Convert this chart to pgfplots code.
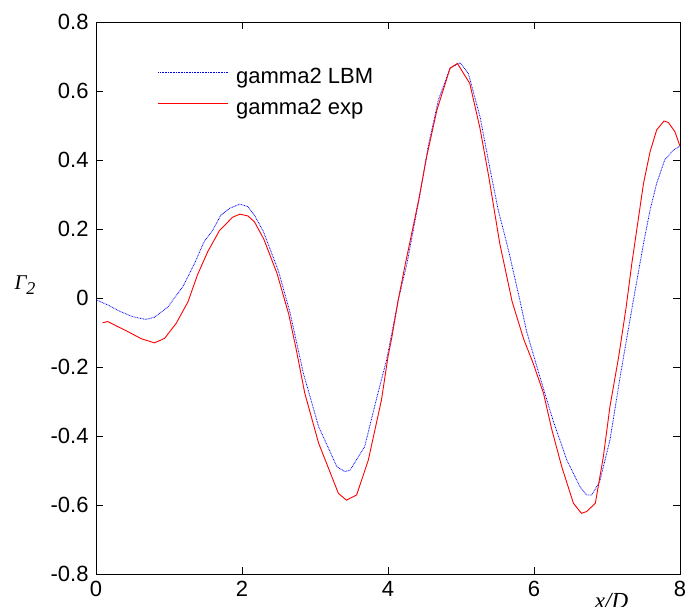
\documentclass[border=0pt]{standalone}
\usepackage{fontspec}
\setmainfont{Liberation Sans}
\newfontfamily\timesfont{Liberation Serif}
\usepackage{pgfplots}
\usepackage{pgfplotstable}
\pgfplotsset{compat=1.18}

\pgfplotstableread{
x y
0.00 -0.005
0.18 -0.022
0.32 -0.038
0.50 -0.054
0.68 -0.062
0.80 -0.056
0.98 -0.027
1.19 0.033
1.35 0.100
1.48 0.163
1.60 0.197
1.71 0.240
1.83 0.260
1.97 0.272
2.08 0.265
2.17 0.240
2.29 0.194
2.50 0.078
2.66 -0.044
2.84 -0.218
3.05 -0.373
3.30 -0.489
3.41 -0.503
3.48 -0.499
3.68 -0.431
3.85 -0.286
3.98 -0.180
4.07 -0.083
4.14 -0.006
4.26 0.100
4.44 0.303
4.55 0.439
4.69 0.574
4.85 0.666
4.99 0.682
5.10 0.651
5.26 0.526
5.40 0.371
5.51 0.255
5.65 0.139
5.81 -0.010
5.90 -0.098
6.08 -0.228
6.26 -0.354
6.45 -0.470
6.63 -0.547
6.72 -0.571
6.79 -0.571
6.90 -0.532
7.04 -0.412
7.18 -0.228
7.29 -0.093
7.35 -0.020
7.50 0.158
7.59 0.255
7.68 0.332
7.79 0.400
7.91 0.429
8.00 0.440
}\lbm

\pgfplotstableread{
x y
0.09 -0.072
0.16 -0.068
0.27 -0.080
0.46 -0.100
0.62 -0.118
0.80 -0.130
0.94 -0.117
1.10 -0.073
1.26 -0.011
1.39 0.067
1.53 0.134
1.69 0.195
1.87 0.234
1.97 0.243
2.08 0.238
2.17 0.221
2.30 0.170
2.48 0.071
2.64 -0.047
2.74 -0.146
2.86 -0.276
3.05 -0.421
3.32 -0.566
3.43 -0.586
3.57 -0.571
3.73 -0.470
3.91 -0.296
4.00 -0.170
4.05 -0.117
4.14 -0.006
4.23 0.091
4.42 0.284
4.53 0.410
4.67 0.545
4.85 0.666
4.95 0.680
5.12 0.622
5.26 0.492
5.38 0.352
5.53 0.159
5.70 -0.010
5.86 -0.120
5.99 -0.190
6.13 -0.276
6.24 -0.378
6.38 -0.489
6.54 -0.595
6.65 -0.624
6.72 -0.619
6.84 -0.595
6.95 -0.460
7.04 -0.315
7.16 -0.170
7.26 -0.030
7.34 0.100
7.50 0.332
7.59 0.424
7.68 0.487
7.78 0.513
7.84 0.509
7.93 0.482
8.00 0.440
}\expdata

\begin{document}
\begin{tikzpicture}
\begin{axis}[
  scale only axis,
  width=584bp, height=552bp,
  xmin=0, xmax=8, ymin=-0.8, ymax=0.8,
  xtick={0,2,4,6,8},
  xticklabels={0,2,4,6,8},
  ytick={-0.8,-0.6,-0.4,-0.2,0,0.2,0.4,0.6,0.8},
  yticklabels={-0.8,-0.6,-0.4,-0.2,0,0.2,0.4,0.6,0.8},
  tick align=inside, tick pos=both,
  major tick length=7bp,
  axis line style={black, line width=0.8bp},
  tick style={black, line width=0.8bp},
  every tick label/.append style={font=\fontsize{22bp}{26bp}\selectfont, inner sep=7.3bp},
  xlabel={\timesfont\itshape x/D},
  xlabel style={at={(axis description cs:0.8827,0)}, anchor=base, yshift=-34bp,
    font=\fontsize{23bp}{27bp}\selectfont},
  ylabel={\timesfont\itshape Γ\raisebox{-5bp}{\fontsize{18bp}{21bp}\selectfont 2}},
  ylabel style={rotate=-90, at={(axis description cs:0,0.5)}, anchor=base west,
    xshift=-85bp, yshift=9bp, font=\fontsize{21bp}{25bp}\selectfont},
  legend cell align=left,
  legend style={draw=none, fill=none, inner sep=0pt, outer sep=0pt,
    at={(rel axis cs:0,1)}, anchor=north west, xshift=62bp, yshift=-39bp,
    font=\fontsize{22bp}{26bp}\selectfont, cells={anchor=base west},
    nodes={inner sep=7.3bp}, row sep=-1bp},
  legend image code/.code={\draw[#1] (0bp,11bp) -- (70bp,11bp);},
]
\addplot[color=blue, line width=0.8bp, dash pattern={on 0.8bp off 0.8bp}] table[x=x,y=y] {\lbm};
\addlegendentry{gamma2 LBM}
\addplot[color=red, line width=0.9bp] table[x=x,y=y] {\expdata};
\addlegendentry{gamma2 exp}
\coordinate (SW) at (rel axis cs:0,0);
\coordinate (NE) at (rel axis cs:1,1);
\end{axis}
\pgfresetboundingbox
\path[use as bounding box] ([shift={(-96bp,-32bp)}]SW) rectangle ([shift={(7bp,22bp)}]NE);
\end{tikzpicture}
\end{document}
